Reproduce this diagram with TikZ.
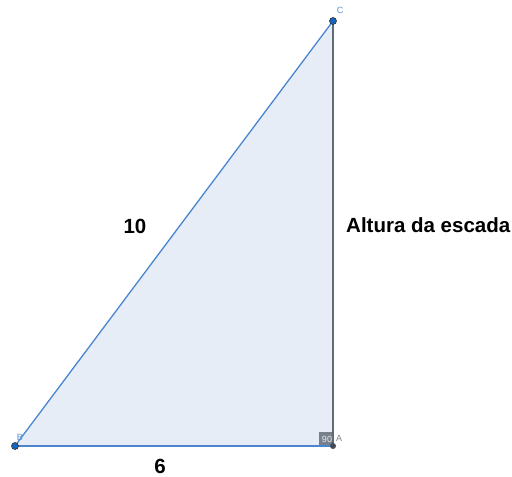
\documentclass[tikz,border=0pt]{standalone}
\usepackage{fontspec}
\setmainfont{Liberation Sans}
\definecolor{triblue}{HTML}{4A86D0}
\definecolor{trifill}{HTML}{E6EDF7}
\definecolor{trigray}{HTML}{5F6B78}
\definecolor{ptblue}{HTML}{1565C0}
\definecolor{lblblue}{HTML}{5B8FD6}
\begin{document}
\begin{tikzpicture}[x=1pt,y=-1pt,
  side/.style={line width=1.3pt},
  ptlabel/.style={text=lblblue,font=\fontsize{9}{9}\selectfont,inner sep=0pt},
  measure/.style={font=\bfseries\fontsize{20.5}{20.5}\selectfont,inner sep=0pt},
  dot/.style={circle,fill=ptblue,draw=black!80,line width=0.6pt,inner sep=0pt,minimum size=7pt}]
\useasboundingbox (0,0) rectangle (512,477);
\coordinate (B) at (15,446);
\coordinate (A) at (333,446);
\coordinate (C) at (333,21);
\fill[trifill] (B) -- (A) -- (C) -- cycle;
\fill[trigray!85] (319,432) rectangle (333,446);
\node[text=white!85!gray,font=\fontsize{9}{9}\selectfont,inner sep=0pt] (ang) at (327,439) {90};
\draw[side,trigray] (A) -- (C);
\draw[side,triblue] (B) -- (A);
\draw[side,triblue] (B) -- (C);
\node[dot] (pB) at (B) {};
\node[dot] (pC) at (C) {};
\node[circle,fill=trigray!70!black,inner sep=0pt,minimum size=6pt] (pA) at (A) {};
\node[ptlabel] (lB) at (20,437) {B};
\node[ptlabel] (lC) at (340,10) {C};
\node[ptlabel,text=gray] (lA) at (339,438) {A};
\node[measure] (l10) at (135,226) {10};
\node[measure,anchor=west] (lh) at (346,225) {Altura da escada};
\node[measure] (l6) at (160,466) {6};
\end{tikzpicture}
\end{document}
